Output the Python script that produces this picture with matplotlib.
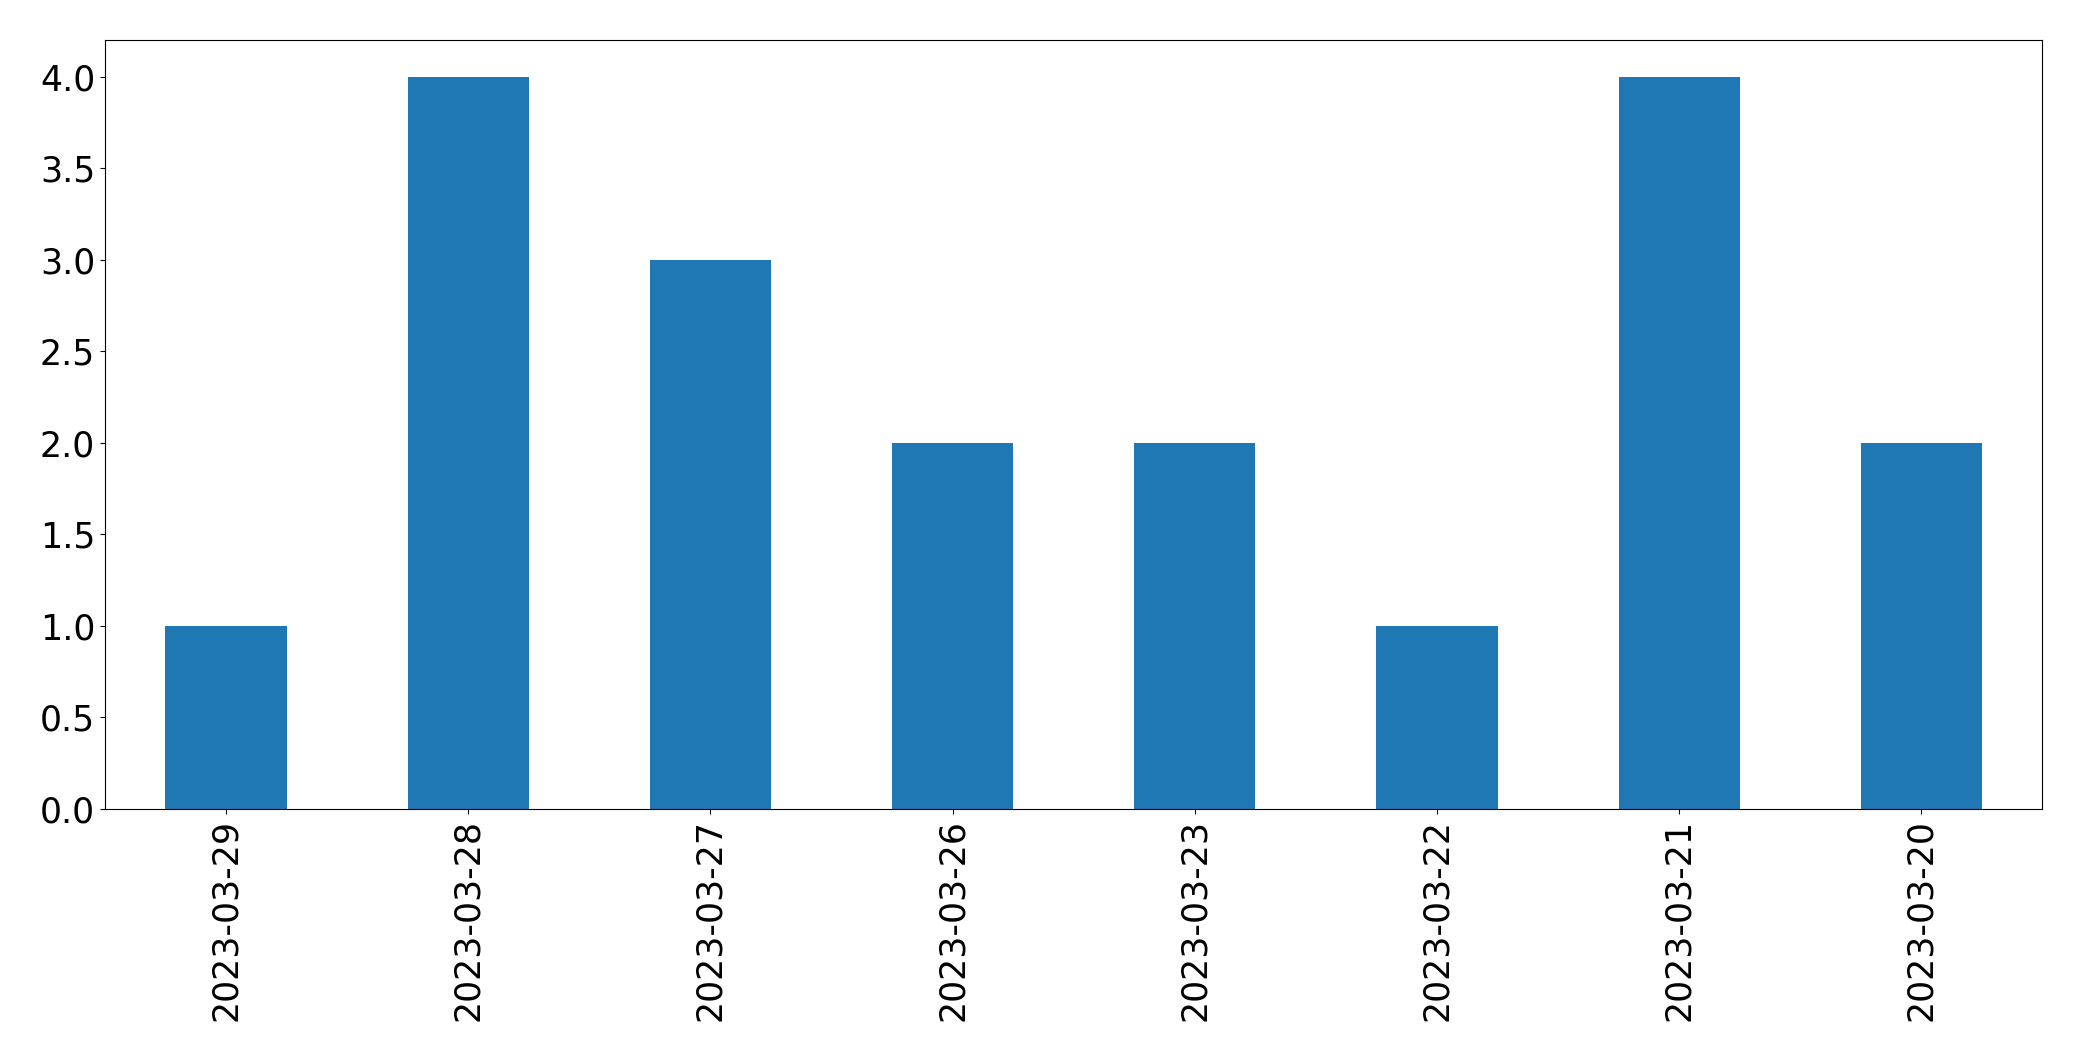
import matplotlib
matplotlib.use("Agg")
import matplotlib.pyplot as plt
import pandas as pd

# daily counts, newest first
dates = ["2023-03-29", "2023-03-28", "2023-03-27", "2023-03-26",
         "2023-03-23", "2023-03-22", "2023-03-21", "2023-03-20"]
counts = [1, 4, 3, 2, 2, 1, 4, 2]

s = pd.Series(counts, index=dates)

fig, ax = plt.subplots(figsize=(20.82, 10.61), dpi=100)
s.plot(kind="bar", ax=ax, color="#1f77b4")
ax.tick_params(axis="both", labelsize=25)
fig.subplots_adjust(left=0.0504, right=0.981, top=0.9623, bottom=0.2375)
fig.savefig("out.png", dpi=100)
